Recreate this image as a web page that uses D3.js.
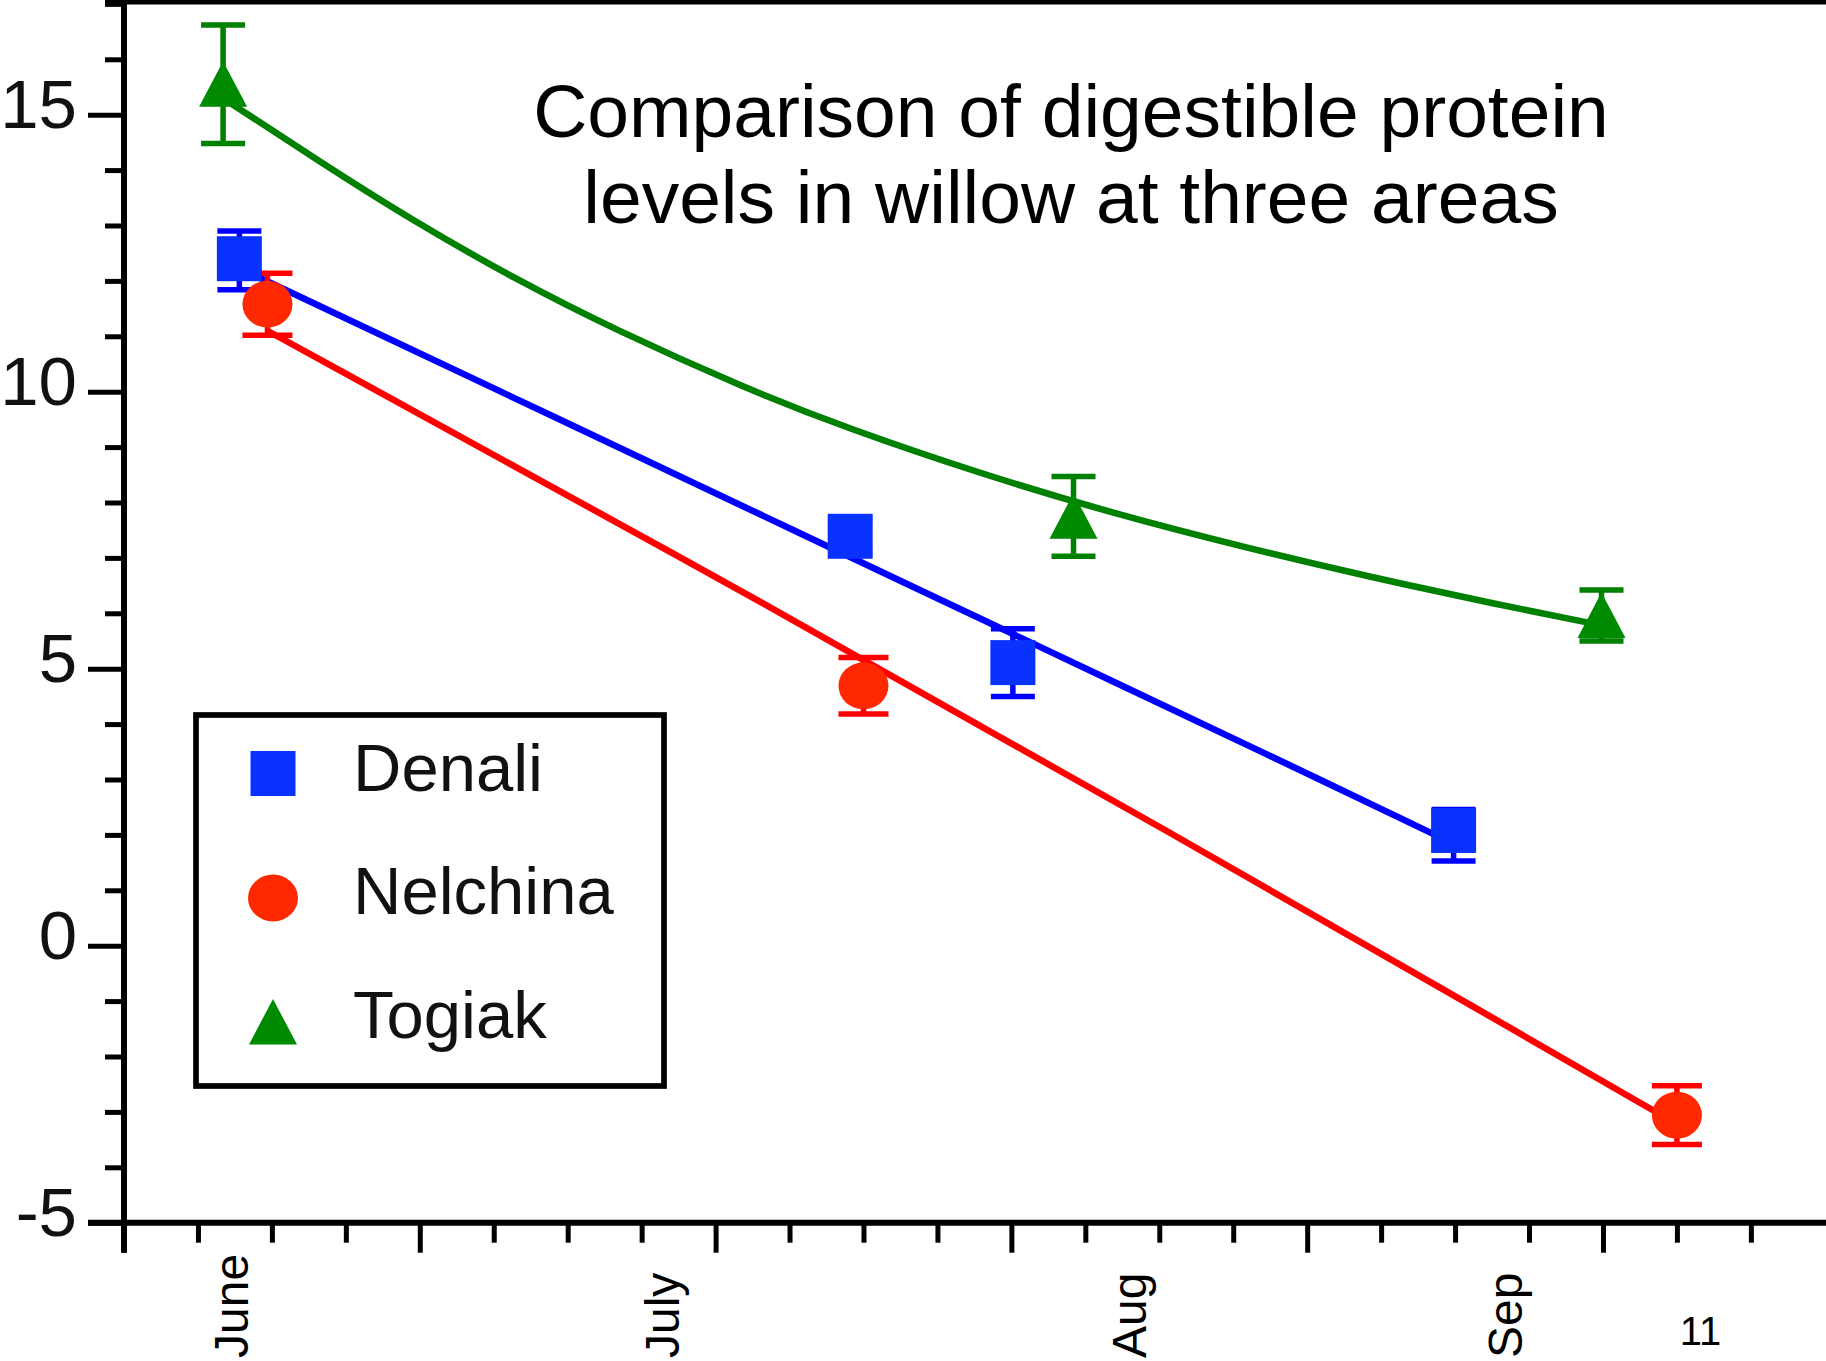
<!DOCTYPE html>
<html><head><meta charset="utf-8">
<script src="https://cdn.jsdelivr.net/npm/d3@7"></script>
<style>body{margin:0;background:#fff;} svg{display:block;}</style>
</head><body>
<svg id="chart" width="1826" height="1361"></svg>
<script>
// ---------- data ----------
const titleLines = ["Comparison of digestible protein", "levels in willow at three areas"];
const seriesNames = ["Denali", "Nelchina", "Togiak"];

const yMajorTicks = [-5, 0, 5, 10, 15];
const yMinorTicks = [-4, -3, -2, -1, 1, 2, 3, 4, 6, 7, 8, 9, 11, 12, 13, 14, 16, 17];
const xMajorTicks = [0, 20, 40, 60, 80, 100];
const xMinorTicks = [5, 10, 15, 25, 30, 35, 45, 50, 55, 65, 70, 75, 85, 90, 95, 105, 110];
const xTickLabels = ["June", "July", "Aug", "Sep"];
const xTickLabelPos = [8.4, 37.5, 69.1, 94.5];
const extraLabel = ["11"];
const extraLabelPos = [106.6];

// observed points (x in days, y in %), error bars upward / downward
const denaliX = [7.8, 49.1, 60.1, 89.9];
const denaliY = [12.40, 7.39, 5.11, 2.08];
const denaliErrUp = [0.50, 0.30, 0.61, 0.38];
const denaliErrDown = [0.56, 0.30, 0.61, 0.55];

const nelchinaX = [9.7, 50.0, 105.0];
const nelchinaY = [11.58, 4.69, -3.06];
const nelchinaErrUp = [0.56, 0.51, 0.53];
const nelchinaErrDown = [0.56, 0.51, 0.53];

const togiakX = [6.7, 64.2, 99.9];
const togiakY = [15.55, 7.75, 5.96];
const togiakErrUp = [1.07, 0.72, 0.46];
const togiakErrDown = [1.07, 0.72, 0.46];

// fitted curves
const denaliFitX = [7.8, 26.6, 44.4, 69.4, 78.2, 89.9];
const denaliFitY = [12.23, 9.86, 7.61, 4.45, 3.34, 1.84];

const nelchinaFitX = [9.7, 44.4, 71.4, 93.0, 105.0];
const nelchinaFitY = [11.10, 6.03, 1.94, -1.37, -3.22];

const togiakFitX = [6.8, 13.3, 19.5, 26.6, 33.1, 42.1, 48.9, 57.9, 66.9, 75.9, 84.0, 93.0, 99.8];
const togiakFitY = [15.28, 14.14, 13.09, 12.01, 11.13, 10.05, 9.34, 8.52, 7.80, 7.18, 6.67, 6.15, 5.79];

// ---------- drawing ----------
const FONT = "'Liberation Sans', Arial, Helvetica, sans-serif";
const svg = d3.select("#chart");
const x = d3.scaleLinear().domain([0, 115.08]).range([124, 1826]);
const y = d3.scaleLinear().domain([-5, 17.07]).range([1222.7, 0]);

const colors = {
  Denali: {line: "#0000ff", fill: "#0a32ff"},
  Nelchina: {line: "#ff0000", fill: "#ff2800"},
  Togiak: {line: "#008000", fill: "#008a00"}
};

// top frame line
svg.append("line").attr("x1", 105).attr("x2", 1826).attr("y1", 2).attr("y2", 2)
  .attr("stroke", "#000").attr("stroke-width", 5);

// y axis
const yMinorAxis = d3.axisLeft(y).tickValues(yMinorTicks).tickSize(19).tickFormat("");
const gyMinor = svg.append("g").attr("transform", `translate(${x(0)},0)`).call(yMinorAxis);
gyMinor.select(".domain").remove();
gyMinor.selectAll(".tick line").attr("stroke", "#000").attr("stroke-width", 5);

const yMajorAxis = d3.axisLeft(y).tickValues(yMajorTicks).tickSize(36).tickPadding(11).tickFormat(d3.format("d"));
const gyMajor = svg.append("g").attr("transform", `translate(${x(0)},0)`).call(yMajorAxis);
gyMajor.select(".domain").remove();
gyMajor.selectAll(".tick line").attr("stroke", "#000").attr("stroke-width", 5);
gyMajor.selectAll(".tick text").attr("font-family", FONT).attr("font-size", 69)
  .attr("fill", "#111").attr("dy", "0.19em").text(d => d < 0 ? "-" + Math.abs(d) : d);

// x axis
const xMinorAxis = d3.axisBottom(x).tickValues(xMinorTicks).tickSize(20).tickFormat("");
const gxMinor = svg.append("g").attr("transform", `translate(0,${y(-5)})`).call(xMinorAxis);
gxMinor.select(".domain").remove();
gxMinor.selectAll(".tick line").attr("stroke", "#000").attr("stroke-width", 5);

const xMajorAxis = d3.axisBottom(x).tickValues(xMajorTicks).tickSize(30).tickFormat("");
const gxMajor = svg.append("g").attr("transform", `translate(0,${y(-5)})`).call(xMajorAxis);
gxMajor.select(".domain").remove();
gxMajor.selectAll(".tick line").attr("stroke", "#000").attr("stroke-width", 5);

// axis lines
svg.append("line").attr("x1", x(0)).attr("x2", x(0)).attr("y1", 0).attr("y2", y(-5) + 30)
  .attr("stroke", "#000").attr("stroke-width", 6);
svg.append("line").attr("x1", x(0) - 36).attr("x2", 1826).attr("y1", y(-5)).attr("y2", y(-5))
  .attr("stroke", "#000").attr("stroke-width", 6);

// x labels (rotated)
xTickLabels.forEach((lab, i) => {
  svg.append("text")
    .attr("transform", `translate(${x(xTickLabelPos[i])},1358) rotate(-90)`)
    .attr("font-family", FONT).attr("font-size", 48).attr("fill", "#000")
    .attr("text-anchor", "start").text(lab);
});
extraLabel.forEach((lab, i) => {
  svg.append("text").attr("x", x(extraLabelPos[i])).attr("y", 1345)
    .attr("font-family", FONT).attr("font-size", 40).attr("fill", "#000")
    .attr("text-anchor", "middle").text(lab);
});

// title
titleLines.forEach((t, i) => {
  svg.append("text").attr("x", 1071).attr("y", 137 + i * 86)
    .attr("font-family", FONT).attr("font-size", 75).attr("fill", "#000")
    .attr("text-anchor", "middle").text(t);
});

// fitted lines
const lineGen = d3.line().x(d => x(d[0])).y(d => y(d[1])).curve(d3.curveBasis);
const fits = [
  ["Togiak", togiakFitX, togiakFitY],
  ["Denali", denaliFitX, denaliFitY],
  ["Nelchina", nelchinaFitX, nelchinaFitY]
];
fits.forEach(([name, xs, ys]) => {
  svg.append("path").datum(xs.map((v, i) => [v, ys[i]]))
    .attr("d", lineGen).attr("fill", "none")
    .attr("stroke", colors[name].line).attr("stroke-width", 6.5);
});

// error bars
const series = [
  ["Denali", denaliX, denaliY, denaliErrUp, denaliErrDown, 22],
  ["Nelchina", nelchinaX, nelchinaY, nelchinaErrUp, nelchinaErrDown, 25],
  ["Togiak", togiakX, togiakY, togiakErrUp, togiakErrDown, 22]
];
series.forEach(([name, xs, ys, eu, ed, cap]) => {
  const g = svg.append("g").attr("stroke", colors[name].line).attr("stroke-width", 5.5);
  xs.forEach((xv, i) => {
    const cx = x(xv), y1 = y(ys[i] + eu[i]), y2 = y(ys[i] - ed[i]);
    g.append("line").attr("x1", cx).attr("x2", cx).attr("y1", y1).attr("y2", y2);
    g.append("line").attr("x1", cx - cap).attr("x2", cx + cap).attr("y1", y1).attr("y2", y1);
    g.append("line").attr("x1", cx - cap).attr("x2", cx + cap).attr("y1", y2).attr("y2", y2);
  });
});

// markers
function drawMarker(g, name, cx, cy) {
  if (name === "Denali") {
    g.append("rect").attr("x", cx - 22.5).attr("y", cy - 22.5).attr("width", 45).attr("height", 45)
      .attr("fill", colors[name].fill);
  } else if (name === "Nelchina") {
    g.append("ellipse").attr("cx", cx).attr("cy", cy).attr("rx", 25).attr("ry", 23.5)
      .attr("fill", colors[name].fill);
  } else {
    g.append("path").attr("d", `M${cx},${cy - 23}L${cx + 24},${cy + 22.5}L${cx - 24},${cy + 22.5}Z`)
      .attr("fill", colors[name].fill);
  }
}
const gm = svg.append("g");
series.forEach(([name, xs, ys]) => {
  xs.forEach((xv, i) => drawMarker(gm, name, x(xv), y(ys[i])));
});

// legend
const lg = svg.append("g");
lg.append("rect").attr("x", 196).attr("y", 715).attr("width", 468).attr("height", 371)
  .attr("fill", "#fff").attr("stroke", "#000").attr("stroke-width", 5.7);
const legendCY = [773.5, 898, 1022];
const legendBase = [791, 914, 1038];
seriesNames.forEach((name, i) => {
  drawMarker(lg, name, 273, legendCY[i]);
  lg.append("text").attr("x", 353).attr("y", legendBase[i])
    .attr("font-family", FONT).attr("font-size", 67).attr("fill", "#111").text(name);
});
</script>
</body></html>
